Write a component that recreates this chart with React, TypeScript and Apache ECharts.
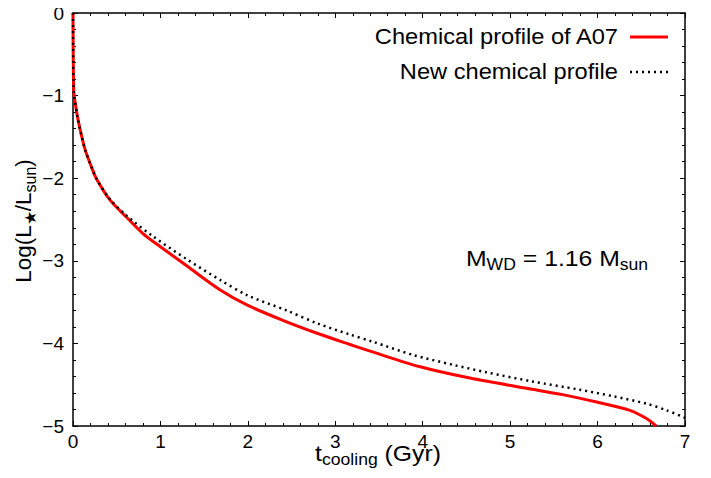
import React, { useEffect, useRef } from "react";
import * as echarts from "echarts";

// Cooling time (Gyr) and log luminosity for the A07 chemical profile
const a07Time = [0, 0.001, 0.003, 0.006, 0.01, 0.02, 0.05, 0.09, 0.14, 0.21, 0.265, 0.42, 0.61, 0.8, 1.0, 1.3, 1.68, 2.0, 2.4, 2.8, 3.16, 3.39, 3.96, 4.54, 5.22, 5.6, 5.99, 6.37, 6.56, 6.67];
const a07LogL = [0, -0.3, -0.6, -0.82, -0.97, -1.05, -1.25, -1.45, -1.66, -1.86, -2.0, -2.26, -2.47, -2.67, -2.83, -3.06, -3.35, -3.54, -3.72, -3.88, -4.01, -4.09, -4.28, -4.42, -4.55, -4.62, -4.71, -4.81, -4.91, -5.0];

// Cooling time (Gyr) and log luminosity for the new chemical profile
const newTime = [0, 0.001, 0.003, 0.006, 0.01, 0.02, 0.05, 0.09, 0.14, 0.21, 0.265, 0.42, 0.61, 0.91, 1.3, 1.68, 2.0, 2.44, 2.8, 3.16, 3.43, 3.89, 4.35, 4.73, 5.25, 5.79, 6.18, 6.56, 6.79, 7.0];
const newLogL = [0, -0.3, -0.6, -0.82, -0.97, -1.05, -1.25, -1.45, -1.66, -1.86, -2.0, -2.25, -2.45, -2.7, -2.98, -3.23, -3.42, -3.6, -3.76, -3.89, -3.98, -4.14, -4.26, -4.35, -4.46, -4.56, -4.64, -4.73, -4.81, -4.9];

const xTicks = { min: 0, max: 7, interval: 1 };
const yTicks = { min: -5, max: 0, interval: 1 };

const seriesNames = ["Chemical profile of A07", "New chemical profile"];

const FONT = "'Liberation Sans', Arial, Helvetica, sans-serif";
const RED = "#ff0000";

function pairs(xs: number[], ys: number[]) {
  return xs.map((x, i) => [x, ys[i]]);
}

export default function App() {
  const ref = useRef<HTMLDivElement>(null);

  useEffect(() => {
    if (!ref.current) return;
    const chart = echarts.init(ref.current, undefined, { renderer: "svg" });

    const axisLine = { show: true, onZero: false, lineStyle: { color: "#000", width: 1.5 } };
    const axisTick = { show: true, inside: true, length: 5, lineStyle: { color: "#000", width: 1 } };
    const minorTick = { show: true, splitNumber: 5, length: 3, lineStyle: { color: "#000", width: 1 } };
    const label = {
      color: "#000",
      fontSize: 19,
      fontFamily: FONT,
      formatter: (v: number) => String(v).replace("-", "\u2212"),
    };

    const sub = { fontSize: 16, fontFamily: FONT, fill: "#000", verticalAlign: "top", lineHeight: 16, padding: [10, 0, 0, 0] };
    const main = { fontSize: 22.5, fontFamily: FONT, fill: "#000", verticalAlign: "top", lineHeight: 22 };

    chart.setOption({
      animation: false,
      backgroundColor: "#fff",
      grid: { left: 73, right: 26, top: 13, bottom: 52 },
      xAxis: [
        {
          type: "value",
          ...xTicks,
          position: "bottom",
          axisLine,
          axisTick,
          minorTick,
          splitLine: { show: false },
          axisLabel: { ...label, margin: 6 },
        },
        {
          type: "value",
          ...xTicks,
          position: "top",
          axisLine,
          axisTick,
          minorTick,
          splitLine: { show: false },
          axisLabel: { show: false },
        },
      ],
      yAxis: [
        {
          type: "value",
          ...yTicks,
          position: "left",
          axisLine,
          axisTick,
          minorTick,
          splitLine: { show: false },
          axisLabel: { ...label, margin: 9 },
        },
        {
          type: "value",
          ...yTicks,
          position: "right",
          axisLine,
          axisTick,
          minorTick,
          splitLine: { show: false },
          axisLabel: { show: false },
        },
      ],
      series: [
        {
          name: seriesNames[0],
          type: "line",
          data: pairs(a07Time, a07LogL),
          showSymbol: false,
          symbol: "none",
          smooth: 0.3,
          clip: true,
          lineStyle: { color: RED, width: 3 },
          z: 3,
        },
        {
          name: seriesNames[1],
          type: "line",
          data: pairs(newTime, newLogL),
          showSymbol: false,
          symbol: "none",
          smooth: 0.3,
          clip: true,
          lineStyle: { color: "#000", width: 2.5, type: [2, 4] },
          z: 4,
        },
      ],
      graphic: [
        // key, top right corner
        {
          type: "text",
          x: 618,
          y: 37,
          scaleX: 1.1,
          style: { text: seriesNames[0], align: "right", verticalAlign: "middle", fontSize: 21.5, fontFamily: FONT, fill: "#000" },
        },
        { type: "line", shape: { x1: 630, y1: 37, x2: 668, y2: 37 }, style: { stroke: RED, lineWidth: 3 } },
        {
          type: "text",
          x: 618,
          y: 72,
          scaleX: 1.1,
          style: { text: seriesNames[1], align: "right", verticalAlign: "middle", fontSize: 21.5, fontFamily: FONT, fill: "#000" },
        },
        { type: "line", shape: { x1: 630, y1: 72, x2: 668, y2: 72 }, style: { stroke: "#000", lineWidth: 2.5, lineDash: [2, 4] } },
        // white dwarf mass annotation
        {
          type: "text",
          x: 466,
          y: 247,
          scaleX: 1.1,
          style: {
            text: "{m|M}{s|WD}{m| = 1.16 M}{s|sun}",
            rich: { m: main, s: sub },
          },
        },
        // x axis title
        {
          type: "text",
          x: 378,
          y: 442,
          scaleX: 1.1,
          style: {
            text: "{m|t}{s|cooling}{m| (Gyr)}",
            align: "center",
            rich: { m: main, s: sub },
          },
        },
        // y axis title
        {
          type: "text",
          x: 23,
          y: 221,
          rotation: Math.PI / 2,
          style: {
            text: "{m|Log(L}{s|\u2605}{m|/L}{s|sun}{m|)}",
            align: "center",
            verticalAlign: "middle",
            rich: { m: main, s: sub },
          },
        },
      ],
    });

    return () => chart.dispose();
  }, []);

  return <div ref={ref} style={{ width: 711, height: 478, margin: -8 }} />;
}
